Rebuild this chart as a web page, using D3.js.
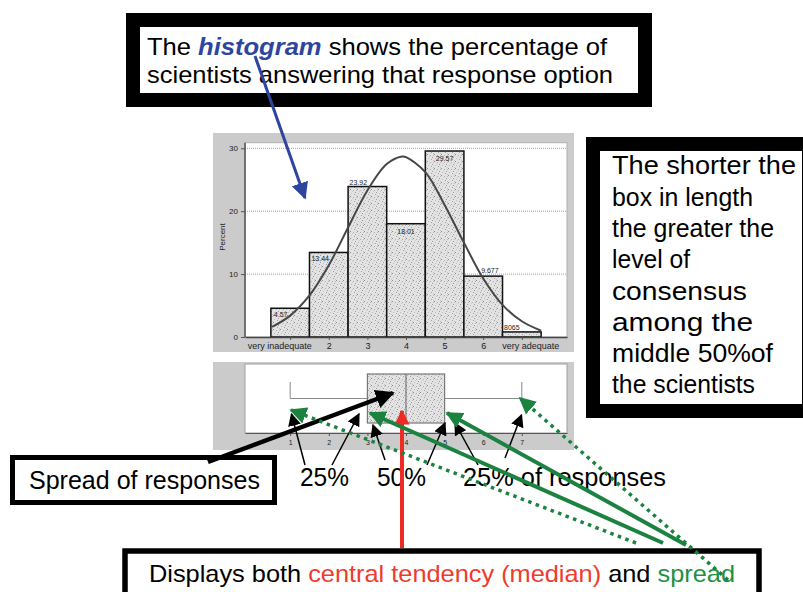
<!DOCTYPE html>
<html>
<head>
<meta charset="utf-8">
<script src="https://cdn.jsdelivr.net/npm/d3@7"></script>
<style>
  body { margin: 0; background: #fff; }
  svg { display: block; font-family: "Liberation Sans", Arial, sans-serif; }
</style>
</head>
<body>
<svg id="chart" width="803" height="592"></svg>
<script>
// values
const categories = ["very inadequate", "2", "3", "4", "5", "6", "very adequate"];
const percents = [4.57, 13.44, 23.92, 18.01, 29.57, 9.677, 0.8065];
const percentLabels = ["4.57", "13.44", "23.92", "18.01", "29.57", "9.677", "8065"];
const yTicks = [0, 10, 20, 30];
// fitted normal curve, read at points along x
const curveX = [0.53, 1, 1.5, 2, 2.5, 3, 3.5, 3.9, 4, 4.5, 5, 5.5, 6, 6.5, 7, 7.5];
const curveY = [1.6, 3.4, 6.6, 11.4, 17.4, 23.3, 27.5, 28.7, 28.6, 26.2, 21.0, 15.0, 9.3, 5.1, 2.5, 1.0];
const boxTicks = [1, 2, 3, 4, 5, 6, 7];
const boxStats = [1, 3, 4, 5, 7]; // min, q1, median, q3, max

const svg = d3.select("#chart");
const defs = svg.append("defs");

// stippled fill like the original
const pat = defs.append("pattern").attr("id", "stip")
  .attr("width", 7).attr("height", 7).attr("patternUnits", "userSpaceOnUse");
pat.append("rect").attr("width", 7).attr("height", 7).attr("fill", "#e3e3e3");
[[0, 0, "#8e8e8e"], [3, 1, "#b0b0b0"], [5, 3, "#9c9c9c"], [1, 4, "#bdbdbd"],
 [4, 5, "#a3a3a3"], [6, 6, "#c4c4c4"], [2, 2, "#cccccc"], [6, 1, "#b8b8b8"]].forEach(d => {
  pat.append("rect").attr("x", d[0]).attr("y", d[1]).attr("width", 1).attr("height", 1).attr("fill", d[2]);
});

function marker(id, color, size) {
  defs.append("marker").attr("id", id)
    .attr("viewBox", "0 -5 10 10").attr("refX", 9).attr("refY", 0)
    .attr("markerUnits", "userSpaceOnUse")
    .attr("markerWidth", size).attr("markerHeight", size)
    .attr("orient", "auto")
    .append("path").attr("d", "M0,-5L10,0L0,5Z").attr("fill", color);
}
marker("hBlue", "#2e45a0", 17);
marker("hBlackBig", "#000", 19);
marker("hBlack", "#000", 13);
marker("hRed", "#ee2a24", 15);
marker("hGreen", "#1b8240", 17);

// ---------- histogram ----------
const x = d3.scaleLinear().domain([-0.17, 8.17]).range([245, 567]);
const y = d3.scaleLinear().domain([0, 30]).range([337, 148.3]);

svg.append("rect").attr("x", 213).attr("y", 133).attr("width", 361).attr("height", 219).attr("fill", "#cbcbcb");
svg.append("rect").attr("x", 245).attr("y", 142.7).attr("width", 322).attr("height", 194.3)
  .attr("fill", "#fff").attr("stroke", "#b0b0b0").attr("stroke-width", 1);

// gridlines
svg.append("g").selectAll("line").data(yTicks.filter(d => d > 0)).join("line")
  .attr("x1", 245).attr("x2", 567).attr("y1", d => y(d)).attr("y2", d => y(d))
  .attr("stroke", "#8a8a8a").attr("stroke-width", 0.8).attr("stroke-dasharray", "1,1");

const yAx = svg.append("g").attr("transform", "translate(245,0)")
  .call(d3.axisLeft(y).tickValues(yTicks).tickSize(4).tickSizeOuter(0));
yAx.select(".domain").remove();
yAx.selectAll("line").attr("stroke", "#555");
yAx.selectAll("text").attr("font-size", 8).attr("fill", "#222").attr("font-family", "Liberation Sans, Arial, sans-serif");
svg.append("line").attr("x1", 245).attr("x2", 245).attr("y1", 142.7).attr("y2", 337)
  .attr("stroke", "#555").attr("stroke-width", 1.5);

svg.append("text").attr("transform", "translate(225,237) rotate(-90)")
  .attr("text-anchor", "middle").attr("font-size", 8).attr("fill", "#222").text("Percent");

const bw = x(1.5) - x(0.5);
svg.append("g").selectAll("rect").data(percents).join("rect")
  .attr("x", (d, i) => x(i + 0.5)).attr("width", bw)
  .attr("y", d => y(d)).attr("height", d => y(0) - y(d))
  .attr("fill", "url(#stip)").attr("stroke", "#111").attr("stroke-width", 1.5);

// label placement per bar (anchor, dx from bar left, dy from bar top)
const labelPlace = [["start", 3, 8.5], ["start", 2, 8.4], ["start", 1.5, -2], ["middle", bw / 2, 10.4],
                    ["middle", bw / 2, 9.8], ["middle", 26, -2.7], ["start", 1.5, -2]];
svg.append("g").selectAll("text").data(percents).join("text")
  .attr("x", (d, i) => x(i + 0.5) + labelPlace[i][1])
  .attr("y", (d, i) => y(d) + labelPlace[i][2])
  .attr("text-anchor", (d, i) => labelPlace[i][0])
  .attr("font-size", 7).attr("fill", "#222")
  .text((d, i) => percentLabels[i]);

svg.append("path")
  .datum(curveX.map((v, i) => [v, curveY[i]]))
  .attr("d", d3.line().x(d => x(d[0])).y(d => y(d[1])).curve(d3.curveCatmullRom))
  .attr("fill", "none").attr("stroke", "#474747").attr("stroke-width", 2);

const xAx = svg.append("g").attr("transform", "translate(0,337)")
  .call(d3.axisBottom(x).tickValues(d3.range(1, 8)).tickFormat(i => categories[i - 1]).tickSize(3).tickSizeOuter(0));
xAx.select(".domain").attr("stroke", "#444").attr("stroke-width", 1.5);
xAx.selectAll("line").attr("stroke", "#555");
xAx.selectAll("text").attr("font-size", 9).attr("fill", "#222").attr("dy", "0.65em")
  .attr("font-family", "Liberation Sans, Arial, sans-serif");
xAx.selectAll(".tick").filter(d => d === 1).select("text").attr("text-anchor", "start").attr("x", -43);
xAx.selectAll(".tick").filter(d => d === 7).select("text").attr("text-anchor", "end").attr("x", 37);

// ---------- box plot ----------
svg.append("rect").attr("x", 213).attr("y", 362).attr("width", 361).attr("height", 88).attr("fill", "#cbcbcb");
svg.append("rect").attr("x", 245).attr("y", 364).attr("width", 322).attr("height", 69)
  .attr("fill", "#fff").attr("stroke", "#a0a0a0").attr("stroke-width", 1);

const [bMin, bQ1, bMed, bQ3, bMax] = boxStats;
const wy = 398.5;
svg.append("line").attr("x1", x(bMin)).attr("x2", x(bQ1)).attr("y1", wy).attr("y2", wy).attr("stroke", "#8a8a8a");
svg.append("line").attr("x1", x(bQ3)).attr("x2", x(bMax)).attr("y1", wy).attr("y2", wy).attr("stroke", "#8a8a8a");
[bMin, bMax].forEach(v => {
  svg.append("line").attr("x1", x(v)).attr("x2", x(v)).attr("y1", 382).attr("y2", wy).attr("stroke", "#8a8a8a");
});
svg.append("rect").attr("x", x(bQ1)).attr("y", 374).attr("width", x(bQ3) - x(bQ1)).attr("height", 49)
  .attr("fill", "url(#stip)").attr("stroke", "#777").attr("stroke-width", 1.2);
svg.append("line").attr("x1", x(bMed)).attr("x2", x(bMed)).attr("y1", 374).attr("y2", 423)
  .attr("stroke", "#777").attr("stroke-width", 1.2);

const bAx = svg.append("g").attr("transform", "translate(0,433)")
  .call(d3.axisBottom(x).tickValues(boxTicks).tickSize(3).tickSizeOuter(0));
bAx.select(".domain").attr("stroke", "#555").attr("stroke-width", 1.2);
bAx.selectAll("line").attr("stroke", "#555");
bAx.selectAll("text").attr("font-size", 7).attr("fill", "#222").attr("dy", "0.9em")
  .attr("font-family", "Liberation Sans, Arial, sans-serif");

// ---------- annotation boxes ----------
function frame(x0, y0, w, h, sw) {
  svg.append("rect").attr("x", x0).attr("y", y0).attr("width", w).attr("height", h)
    .attr("fill", "#fff").attr("stroke", "#000").attr("stroke-width", sw);
}
function label(txt, x0, y0, size, len) {
  return svg.append("text").attr("x", x0).attr("y", y0).attr("font-size", size)
    .attr("textLength", len).attr("lengthAdjust", "spacingAndGlyphs").attr("fill", "#000").text(txt);
}

frame(133, 20, 512, 80, 14);
const t1 = svg.append("text").attr("x", 147).attr("y", 54.5).attr("font-size", 24)
  .attr("textLength", 460).attr("lengthAdjust", "spacingAndGlyphs");
t1.append("tspan").text("The ");
t1.append("tspan").attr("font-weight", "bold").attr("font-style", "italic").attr("fill", "#2e45a0").text("histogram");
t1.append("tspan").text(" shows the percentage of");
label("scientists answering that response option", 147, 83, 24, 466);

frame(593, 144, 216, 267, 14);
const rightLines = ["The shorter the", "box in length", "the greater the", "level of",
                    "consensus", "among the", "middle 50%of", "the scientists"];
const rightLens = [184, 141, 162, 78, 135, 141, 161, 143];
rightLines.forEach((s, i) => label(s, 612, 174.3 + i * 31.3, 26, rightLens[i]));

frame(12.5, 457.5, 262, 45, 5);
label("Spread of responses", 29, 489, 26, 231);

label("25%", 300, 486, 26, 49);
label("50%", 377, 486, 26, 49);
label("25% of responses", 463, 486, 26, 203);

frame(125, 551, 634, 60, 5.5);
const t2 = svg.append("text").attr("x", 149).attr("y", 581.7).attr("font-size", 24)
  .attr("textLength", 586).attr("lengthAdjust", "spacingAndGlyphs");
t2.append("tspan").attr("fill", "#000").text("Displays both ");
t2.append("tspan").attr("fill", "#ef3b2c").text("central tendency (median)");
t2.append("tspan").attr("fill", "#000").text(" and ");
t2.append("tspan").attr("fill", "#1f9140").text("spread");

// ---------- arrows ----------
function arrow(p, color, w, head, dash) {
  const l = svg.append("line").attr("x1", p[0][0]).attr("y1", p[0][1]).attr("x2", p[1][0]).attr("y2", p[1][1])
    .attr("stroke", color).attr("stroke-width", w).attr("marker-end", `url(#${head})`);
  if (dash) l.attr("stroke-dasharray", dash);
}
arrow([[255, 56], [305, 198]], "#2e45a0", 3, "hBlue");
arrow([[208, 462], [393, 393]], "#000", 4.5, "hBlackBig");
[[[305, 465], [291.5, 414]], [[332, 465], [359, 414]], [[385, 460], [373, 425]],
 [[427, 465], [445, 423]], [[478, 465], [455, 423]], [[505, 458], [521.5, 415]]]
  .forEach(p => arrow(p, "#000", 1.5, "hBlack"));
arrow([[402, 548], [402, 411]], "#ee2a24", 4, "hRed");
arrow([[663, 543], [370, 413]], "#1b8240", 4, "hGreen");
arrow([[686, 545], [447, 413]], "#1b8240", 4, "hGreen");
arrow([[636, 543], [291, 410]], "#1b8240", 3.5, "hGreen", "3.5,4.5");
arrow([[728, 580], [520, 398]], "#1b8240", 3.5, "hGreen", "3.5,4.5");
</script>
</body>
</html>
